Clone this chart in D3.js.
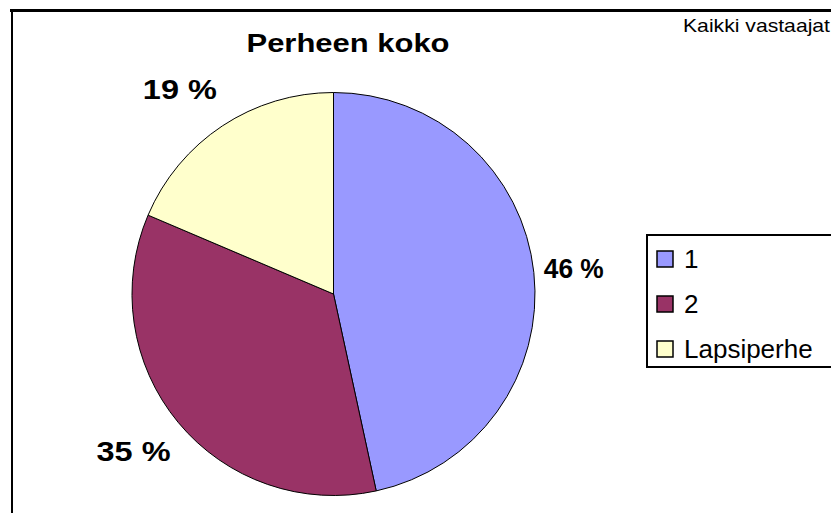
<!DOCTYPE html>
<html>
<head>
<meta charset="utf-8">
<script src="https://cdn.jsdelivr.net/npm/d3@7"></script>
<style>
  body { margin: 0; background: #fff; }
  text { font-family: "Liberation Sans", Arial, sans-serif; fill: #000; }
</style>
</head>
<body>
<svg id="chart" width="831" height="513"></svg>
<script>
const categories = ["1", "2", "Lapsiperhe"];
const shares = [46.6, 34.8, 18.6];
const pctLabels = ["46 %", "35 %", "19 %"];
const colors = ["#9999FF", "#993366", "#FFFFCC"];

const svg = d3.select("#chart");
const width = 831, height = 513;
const cx = 333.5, cy = 294, r = 201.5;

svg.append("rect").attr("width", width).attr("height", height).attr("fill", "#fff");

// chart frame (only top and left edges are visible)
svg.append("line").attr("x1", 10).attr("x2", width).attr("y1", 10.5).attr("y2", 10.5)
  .attr("stroke", "#000").attr("stroke-width", 3);
svg.append("line").attr("x1", 12).attr("x2", 12).attr("y1", 9).attr("y2", height)
  .attr("stroke", "#000").attr("stroke-width", 2);

svg.append("text")
  .attr("x", 348).attr("y", 52)
  .attr("text-anchor", "middle")
  .attr("font-size", 25).attr("font-weight", "bold")
  .attr("textLength", 203).attr("lengthAdjust", "spacingAndGlyphs")
  .text("Perheen koko");

svg.append("text")
  .attr("x", 683).attr("y", 32)
  .attr("font-size", 19)
  .attr("textLength", 147).attr("lengthAdjust", "spacingAndGlyphs")
  .text("Kaikki vastaajat");

const pie = d3.pie().sort(null).value(d => d);
const arcs = pie(shares);
const arc = d3.arc().innerRadius(0).outerRadius(r);

const g = svg.append("g").attr("transform", `translate(${cx},${cy})`);

g.selectAll("path")
  .data(arcs)
  .join("path")
  .attr("d", arc)
  .attr("fill", (d, i) => colors[i])
  .attr("stroke", "#000")
  .attr("stroke-width", 1);

// labels sit just outside the rim, anchored on the side facing the pie
const midAngle = d => (d.startAngle + d.endAngle) / 2;
g.selectAll("text.pct")
  .data(arcs)
  .join("text")
  .attr("class", "pct")
  .attr("x", d => Math.sin(midAngle(d)) * (r + 10))
  .attr("y", d => -Math.cos(midAngle(d)) * (r + 44))
  .attr("text-anchor", d => Math.sin(midAngle(d)) >= 0 ? "start" : "end")
  .attr("dy", "0.36em")
  .attr("font-size", 28).attr("font-weight", "bold")
  .attr("textLength", (d, i) => i === 0 ? 60 : 74).attr("lengthAdjust", "spacingAndGlyphs")
  .text((d, i) => pctLabels[i]);

// legend
const legend = svg.append("g");
legend.append("rect")
  .attr("x", 647).attr("y", 235).attr("width", 220).attr("height", 132)
  .attr("fill", "#fff").attr("stroke", "#000").attr("stroke-width", 2);

const items = legend.selectAll("g.item")
  .data(categories)
  .join("g")
  .attr("class", "item")
  .attr("transform", (d, i) => `translate(657,${251 + i * 45})`);

items.append("rect")
  .attr("width", 16).attr("height", 16)
  .attr("fill", (d, i) => colors[i])
  .attr("stroke", "#000").attr("stroke-width", 1.5);

items.append("text")
  .attr("x", 27).attr("y", 17)
  .attr("font-size", 26)
  .text(d => d);
</script>
</body>
</html>
